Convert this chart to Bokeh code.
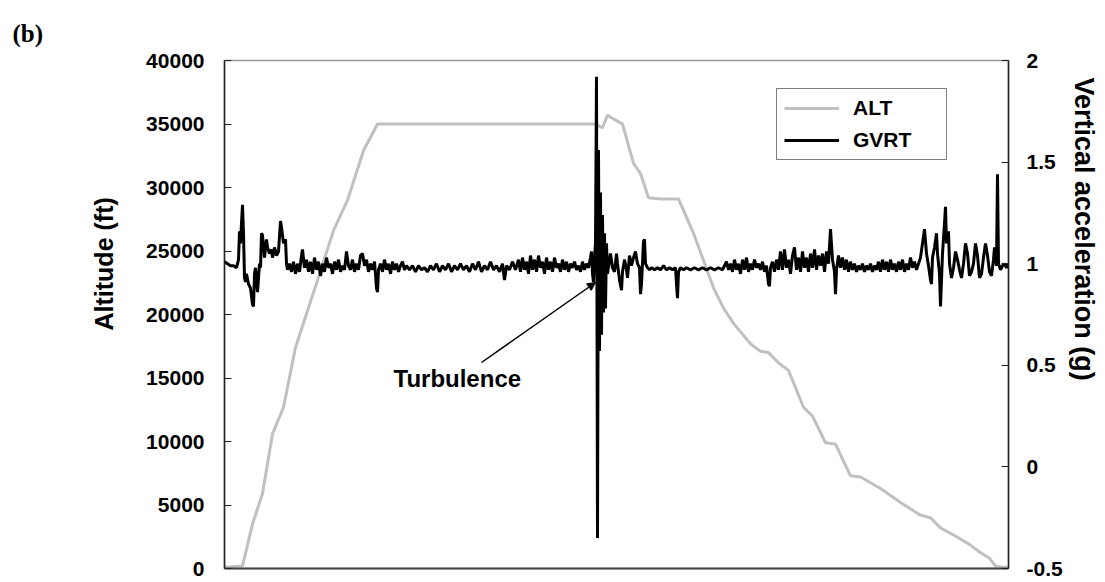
from bokeh.plotting import figure
from bokeh.models import Range1d, LinearAxis, FixedTicker, Legend, LegendItem, Label, Arrow, NormalHead, NumeralTickFormatter, Title
from bokeh.embed import file_html
from bokeh.resources import INLINE

# time axis: arbitrary sample units (0..784)
alt_t = [0, 18, 28, 38, 48, 59, 71, 81, 93, 109, 123, 139, 153, 371, 378, 383, 389, 398, 409, 416, 424, 436, 454,
         469, 489, 499, 509, 526, 536, 544, 554, 564, 579, 588, 601, 611, 626, 636, 656, 676, 696, 706, 716, 730,
         745, 755, 765, 771, 778, 784]
alt_ft = [100, 200, 3500, 5900, 10600, 12700, 17400, 19800, 22700, 26600, 29000, 32900, 35000, 35000, 34700, 35700,
          35400, 35000, 31900, 31100, 29200, 29100, 29100, 26400, 22100, 20500, 19300, 17700, 17100, 17000, 16200,
          15600, 12700, 12000, 9900, 9800, 7300, 7200, 6300, 5200, 4200, 4000, 3200, 2600, 1900, 1300, 800, 200,
          100, 100]

gvrt_pts = [
    (0, 1.01), (3, 1.00), (6, 0.99), (9, 0.99), (12, 0.98), (14, 1.02), (15, 1.16), (16, 1.10), (17, 1.20),
    (18, 1.29), (19, 1.15), (20, 0.93), (21, 0.91), (22, 0.95), (24, 0.90), (26, 0.88), (28, 0.80), (29, 0.79),
    (30, 0.95), (31, 0.98), (33, 0.86), (35, 1.00), (36, 0.98), (37, 1.15), (38, 1.14), (40, 1.03), (42, 1.12),
    (43, 1.08), (45, 1.05), (47, 1.07), (48, 1.03), (50, 1.08), (52, 1.04), (54, 1.06), (56, 1.21), (57, 1.18),
    (59, 1.10), (61, 1.12), (62, 1.00), (63, 0.97), (65, 1.00), (67, 0.96),
    (69, 1.01), (71, 0.95), (73, 1.00), (75, 0.96), (77, 1.04), (78, 1.07), (80, 0.98), (82, 1.02), (84, 0.96),
    (86, 1.01), (88, 0.95), (90, 1.03), (92, 0.97), (94, 1.01), (96, 0.94), (98, 1.00), (100, 0.96), (102, 1.03),
    (104, 0.98), (106, 1.00), (108, 0.95), (110, 1.01), (112, 0.97), (114, 1.02), (116, 0.96), (118, 0.99),
    (120, 0.97), (122, 1.06), (124, 0.99), (126, 0.97), (128, 1.02), (130, 0.96), (132, 1.00), (134, 0.97),
    (136, 1.04), (138, 1.05), (140, 0.99), (142, 1.02), (144, 0.96), (146, 1.00), (148, 0.97), (150, 1.01),
    (152, 0.88), (153, 0.86), (154, 0.97), (156, 1.00), (158, 0.96), (160, 1.02), (162, 0.97), (164, 1.00),
    (166, 0.95), (168, 1.01), (170, 0.97), (172, 1.00), (174, 0.96), (176, 0.99), (178, 1.01), (180, 0.97),
    (182, 0.99), (185, 0.97), (188, 0.99), (191, 0.96), (194, 0.99), (197, 0.97), (200, 0.98), (203, 0.96),
    (206, 0.99), (209, 0.97), (212, 1.00), (215, 0.96), (218, 0.99), (221, 0.97), (224, 1.00), (227, 0.96),
    (230, 0.99), (233, 0.97), (236, 1.00), (239, 0.97), (242, 0.99), (245, 0.96), (248, 1.00), (251, 0.97),
    (254, 1.01), (257, 0.96), (260, 0.99), (263, 0.97), (266, 1.01), (269, 0.97), (272, 0.99), (275, 0.96),
    (278, 1.00), (280, 0.92), (282, 0.99), (285, 0.97), (288, 1.01),
    (291, 0.97), (294, 1.02), (296, 0.96), (298, 1.03), (300, 0.97), (302, 1.01), (304, 0.95), (306, 1.04),
    (308, 0.97), (310, 1.02), (312, 0.96), (314, 1.04), (316, 0.98), (318, 1.01), (320, 0.95), (322, 1.03),
    (324, 0.97), (326, 1.01), (328, 0.96), (330, 1.03), (332, 0.98), (334, 1.00), (336, 0.96), (338, 1.02),
    (340, 0.97), (342, 1.01), (344, 0.96), (346, 1.00), (348, 0.98), (350, 1.01), (352, 0.97), (354, 0.99),
    (356, 0.96), (358, 1.01), (360, 0.97), (362, 1.00), (364, 0.98), (366, 1.03), (367, 1.06), (368, 0.95),
    (369, 0.91),
    (370, 1.03), (371, 1.10), (372, 1.92), (373, -0.35), (374, 1.56), (375, 0.57), (376, 1.35), (377, 0.65),
    (378, 1.24), (379, 0.76), (380, 1.15), (381, 0.78), (382, 1.10), (383, 0.95), (385, 1.02), (386, 1.05),
    (388, 0.98), (390, 0.96), (392, 1.05), (393, 1.00), (395, 0.92), (397, 0.87), (398, 0.96), (400, 1.02),
    (402, 0.97), (403, 0.93), (405, 1.04), (407, 0.99), (409, 1.03), (411, 1.06), (413, 1.00), (415, 0.98),
    (416, 0.85), (417, 0.90), (419, 1.11), (420, 1.12), (421, 1.00), (423, 0.98), (425, 0.97),
    (427, 0.98), (430, 0.97), (433, 0.98), (436, 0.97), (439, 0.99), (442, 0.97), (445, 0.98), (448, 0.97),
    (451, 0.98), (452, 0.90), (453, 0.83), (454, 0.96), (456, 0.98), (459, 0.97), (462, 0.98), (466, 0.97),
    (470, 0.98), (474, 0.97), (478, 0.98), (482, 0.97), (486, 0.98), (490, 0.97), (494, 0.98), (498, 0.97),
    (500, 0.99),
    (502, 1.01), (504, 0.97), (506, 1.00), (508, 0.96), (510, 1.02), (512, 0.97), (514, 1.00), (516, 0.95),
    (518, 1.02), (520, 0.97), (522, 1.03), (524, 0.96), (526, 1.00), (528, 0.97), (530, 1.02), (532, 0.98),
    (534, 1.00), (536, 0.97), (538, 1.01), (540, 0.96), (542, 0.99), (544, 0.90), (545, 0.89), (546, 0.98),
    (548, 1.01), (550, 0.96), (552, 1.02), (554, 0.97), (556, 1.06), (558, 0.97), (560, 1.07), (562, 0.98),
    (564, 1.02), (566, 0.95), (568, 1.04), (570, 1.08), (572, 0.97), (574, 1.03), (576, 0.96), (578, 1.06),
    (580, 0.98), (582, 1.03), (584, 0.96), (586, 1.05), (588, 0.98), (590, 1.07), (592, 0.97), (594, 1.04),
    (596, 0.99), (598, 1.05), (600, 0.96), (602, 1.06), (604, 1.00), (606, 1.17), (608, 1.02), (610, 0.96),
    (611, 0.85), (612, 0.97), (614, 1.04), (616, 0.98), (618, 1.03), (620, 0.97), (622, 1.02), (624, 0.96),
    (626, 1.01), (628, 0.97), (630, 1.00), (632, 0.96), (634, 0.99), (636, 0.97), (638, 1.00), (640, 0.96),
    (642, 0.99), (644, 0.97), (646, 1.00), (648, 0.96), (650, 0.99), (652, 0.97), (654, 1.01), (656, 0.96),
    (658, 1.02), (660, 0.97), (662, 1.01), (664, 0.96), (666, 1.02), (668, 0.97), (670, 1.00), (672, 0.96),
    (674, 1.01), (676, 0.97), (678, 1.02), (680, 0.96), (682, 1.00), (684, 0.97), (686, 1.03), (688, 0.98),
    (690, 1.01), (692, 0.97), (694, 1.00), (696, 1.03),
    (698, 1.10), (700, 1.17), (702, 1.05), (704, 0.99), (706, 0.92), (707, 0.90), (708, 1.03), (710, 1.08),
    (712, 1.15), (713, 1.05), (715, 0.95), (716, 0.79), (717, 0.92), (718, 1.05), (720, 1.20), (721, 1.28),
    (722, 1.10), (724, 1.16), (725, 1.00), (727, 0.93), (729, 0.98), (731, 1.06), (733, 1.02), (735, 0.97),
    (737, 0.93), (739, 1.00), (741, 1.10), (743, 1.05), (745, 0.94), (747, 0.96), (749, 1.00), (751, 1.10),
    (753, 1.04), (755, 0.93), (757, 0.95), (759, 1.03), (761, 1.10), (763, 1.04), (765, 0.96), (767, 0.94),
    (769, 1.02), (770, 1.08), (771, 1.03), (772, 0.99), (773, 1.44), (774, 1.00), (776, 0.97), (778, 0.99),
    (780, 1.00), (782, 0.98), (784, 1.00),
]
gvrt_t = [pt[0] for pt in gvrt_pts]
gvrt_g = [pt[1] for pt in gvrt_pts]

left_ticks = [0, 5000, 10000, 15000, 20000, 25000, 30000, 35000, 40000]
right_ticks = [-0.5, 0, 0.5, 1, 1.5, 2]

FONT = "Liberation Sans"
HAS_STANDOFF = "standoff" in Title.properties()

p = figure(width=1105, height=582, output_backend="svg", toolbar_location=None,
           x_range=Range1d(0, 784), y_range=Range1d(0, 40000),
           min_border_left=224, min_border_right=97, min_border_top=60, min_border_bottom=14)
p.extra_y_ranges = {"g": Range1d(-0.5, 2)}
p.xgrid.visible = False
p.ygrid.visible = False
p.outline_line_color = "#999999"
p.outline_line_width = 1.5

p.xaxis.ticker = FixedTicker(ticks=[])
p.xaxis.major_label_text_font_size = "0px"
p.xaxis.axis_line_color = "#444444"
p.xaxis.axis_line_width = 2
p.xaxis.major_tick_in = 0
p.xaxis.major_tick_out = 0
p.xaxis.minor_tick_in = 0
p.xaxis.minor_tick_out = 0

ya = p.yaxis[0]
ya.ticker = FixedTicker(ticks=left_ticks)
ya.formatter = NumeralTickFormatter(format="0")

ra = LinearAxis(y_range_name="g", ticker=FixedTicker(ticks=right_ticks),
                formatter=NumeralTickFormatter(format="0.[0]"))
p.add_layout(ra, "right")

for ax in (ya, ra):
    ax.major_tick_in = 7
    ax.major_tick_out = 0
    ax.minor_tick_in = 0
    ax.minor_tick_out = 0
    ax.axis_line_color = "#222222"
    ax.axis_line_width = 1.5
    ax.major_tick_line_color = "#222222"
    ax.major_label_text_font = FONT
    ax.major_label_text_font_style = "bold"
    ax.major_label_text_font_size = "21px"
    ax.major_label_text_color = "black"
ya.major_label_standoff = 20
ra.major_label_standoff = 18


def make_title(text, size, offset, standoff, align, valign, font=FONT):
    kw = dict(text=text, align=align, offset=offset, vertical_align=valign, text_font=font,
              text_font_style="bold", text_font_size=size, text_color="black")
    if HAS_STANDOFF:
        kw["standoff"] = standoff
    return Title(**kw)


p.add_layout(make_title("Altitude (ft)", "25px", 238, 51, "left", "bottom"), "left")
p.add_layout(make_title("Vertical acceleration (g)", "27px", 17, 3, "left", "top"), "right")
p.add_layout(make_title("(b)", "25px", -212, 23, "left", "top", font="Liberation Serif"), "above")

r_alt = p.line(alt_t, alt_ft, line_color="#c0c0c0", line_width=3)
r_g = p.line(gvrt_t, gvrt_g, y_range_name="g", line_color="black", line_width=3)

legend = Legend(items=[LegendItem(label="ALT", renderers=[r_alt]), LegendItem(label="GVRT", renderers=[r_g])],
                location=(552, 408), padding=7, spacing=8, glyph_width=55, glyph_height=20, label_height=20,
                label_width=86, label_standoff=14, border_line_color="black", border_line_width=1,
                label_text_font=FONT, label_text_font_style="bold", label_text_font_size="21px",
                label_text_color="black", background_fill_alpha=1, margin=0)
p.add_layout(legend)

p.add_layout(Label(x=169, y=13900, text="Turbulence", text_font=FONT, text_font_style="bold",
                   text_font_size="24px", text_color="black"))
p.add_layout(Arrow(end=NormalHead(size=8, fill_color="black", line_color="black"), x_start=257, y_start=16220,
                   x_end=371, y_end=22520, line_width=1.5, line_color="black"))

open("out.html", "w").write(file_html(p, INLINE))
